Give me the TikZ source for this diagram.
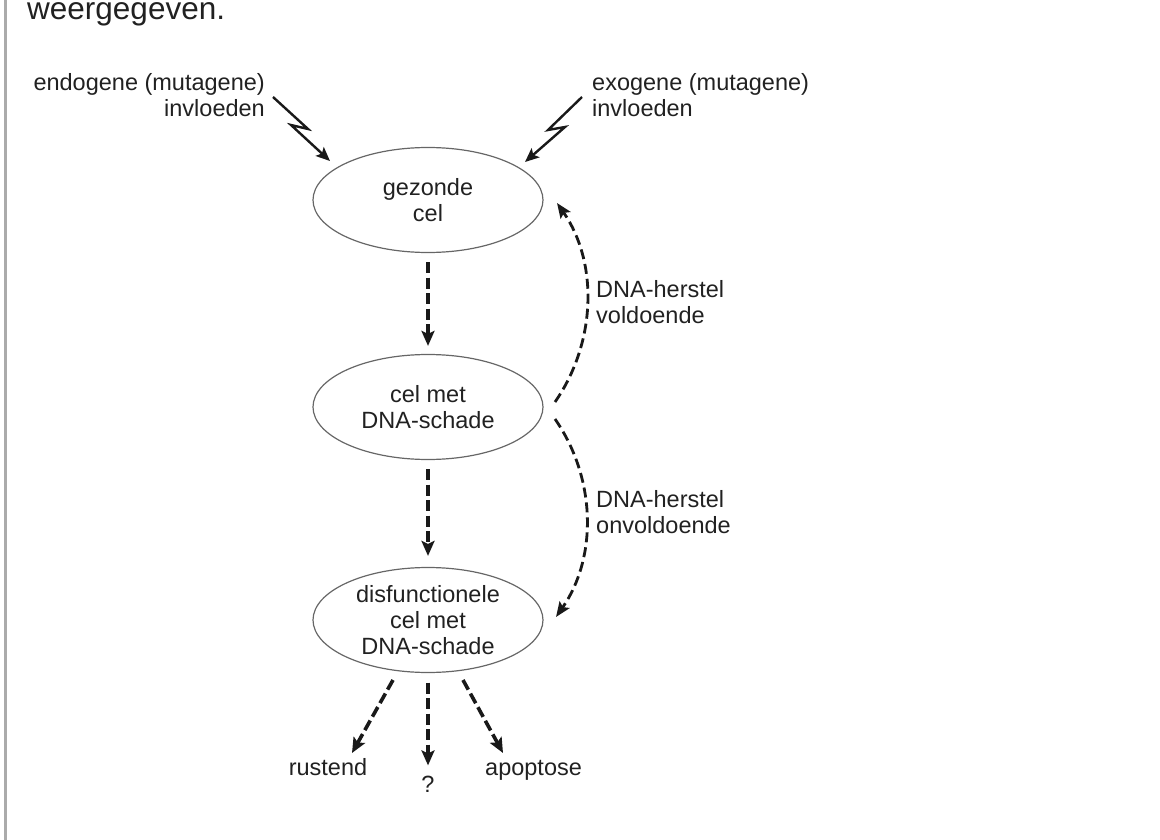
\documentclass[tikz,border=0pt]{standalone}
\usepackage{fontspec}
\setmainfont{Liberation Sans}
\usetikzlibrary{arrows.meta,shapes.geometric}
\begin{document}
\begin{tikzpicture}[x=1pt,y=-1pt,
  txt/.style={text=black!87, font=\fontsize{23.5}{26}\selectfont, inner sep=0pt},
  cell/.style={txt, ellipse, draw=black!60, line width=1.2pt, minimum width=230pt, minimum height=105pt, align=center},
  zap/.style={draw=black!90, line width=2.4pt, line join=miter, -{Stealth[length=14pt,width=12pt,inset=3pt]}},
  vdash/.style={draw=black!90, line width=3.6pt, dash pattern=on 11pt off 4.5pt, -{Stealth[length=15pt,width=13pt,inset=3pt]}},
  cdash/.style={draw=black!90, line width=2.8pt, dash pattern=on 10pt off 5pt, -{Stealth[length=15pt,width=12pt,inset=3pt]}}
]
\useasboundingbox (0,0) rectangle (1160,840);
\draw[black!33, line width=3pt] (5.5,0) -- (5.5,840);

\node[txt, font=\fontsize{31.5}{35}\selectfont, anchor=base west] (head) at (27,20) {weergegeven.};

\node[txt, align=right, anchor=east] (endo) at (265,95) {endogene (mutagene)\\invloeden};
\node[txt, align=left, anchor=west] (exo) at (592,95) {exogene (mutagene)\\invloeden};

\node[cell] (gez) at (428,200) {gezonde\\cel};
\node[cell] (cel) at (428,407) {cel met\\DNA-schade};
\node[cell] (dis) at (428,620) {disfunctionele\\cel met\\DNA-schade};

\node[txt, align=left, anchor=west] (vold) at (596,302.5) {DNA-herstel\\voldoende};
\node[txt, align=left, anchor=west] (onvold) at (596,512) {DNA-herstel\\onvoldoende};

\node[txt, anchor=base] (rust) at (328,775) {rustend};
\node[txt, anchor=base] (q) at (428,792) {?};
\node[txt, anchor=base west] (apo) at (485,775) {apoptose};

% lightning arrows
\coordinate (e1) at (273,97);
\coordinate (e2) at (308,129);
\coordinate (e3) at (291,125);
\coordinate (e4) at (330,161);
\draw[zap] (e1) -- (e2) -- (e3) -- (e4);
\coordinate (x1) at (582,97);
\coordinate (x2) at (548,130);
\coordinate (x3) at (565,127);
\coordinate (x4) at (525,162);
\draw[zap] (x1) -- (x2) -- (x3) -- (x4);

% vertical dashed arrows
\draw[vdash, shorten <=9pt, shorten >=8pt] (gez.south) -- (cel.north);
\draw[vdash, shorten <=9pt, shorten >=11pt] (cel.south) -- (dis.north);
\draw[vdash, shorten <=9.5pt, shorten >=10pt] (dis.south) -- (q.north);

% bottom diagonal arrows
\coordinate (b1) at (393,680);
\coordinate (b2) at (352,753);
\draw[vdash] (b1) -- (b2);
\coordinate (c1) at (463,680);
\coordinate (c2) at (503,753);
\draw[vdash] (c1) -- (c2);

% curved repair arrows
\coordinate (r1) at (555,402);
\coordinate (r2) at (557,203);
\draw[cdash] (r1) .. controls (596.4,342.5) and (598.4,262.5) .. (r2);
\coordinate (s1) at (555,419);
\coordinate (s2) at (556,617);
\draw[cdash] (s1) .. controls (596.4,478.5) and (597.4,557.5) .. (s2);
\end{tikzpicture}
\end{document}
